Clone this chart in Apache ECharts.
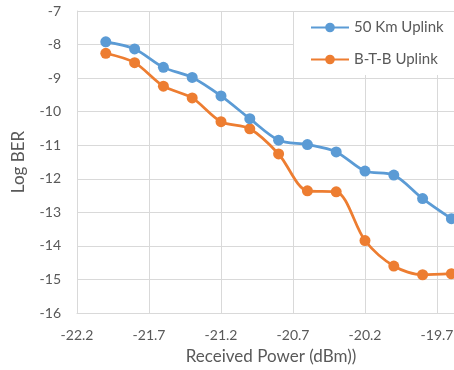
<!DOCTYPE html>
<html>
<head>
<meta charset="utf-8">
<script src="https://cdn.jsdelivr.net/npm/echarts@6/dist/echarts.min.js"></script>
<style>
  html, body { margin: 0; padding: 0; background: #fff; }
  #chart { width: 454px; height: 370px; }
</style>
</head>
<body>
<div id="chart"></div>
<script>
// Received optical power (dBm) and measured log10(BER) per link
const powerDbm = [-22.0, -21.8, -21.6, -21.4, -21.2, -21.0, -20.8, -20.6, -20.4, -20.2, -20.0, -19.8, -19.6];
const ber50km = [-7.92, -8.13, -8.68, -8.98, -9.53, -10.21, -10.85, -10.98, -11.2, -11.77, -11.89, -12.59, -13.19];
const berBtb = [-8.26, -8.54, -9.24, -9.59, -10.3, -10.51, -11.26, -12.36, -12.39, -13.84, -14.6, -14.86, -14.83];
const seriesNames = ['50 Km Uplink', 'B-T-B Uplink'];
const xTitle = 'Received Power (dBm))';
const yTitle = 'Log BER';

const FONT = 'Lato, "Open Sans", sans-serif';
const TEXT = '#595959';
const GRID = '#d9d9d9';

const pairs = (xs, ys) => xs.map((x, i) => [x, ys[i]]);

const chart = echarts.init(document.getElementById('chart'), null, { renderer: 'canvas' });

chart.setOption({
  animation: false,
  textStyle: { fontFamily: FONT },
  grid: {
    left: 77, top: 11, width: 432, height: 302,
    containLabel: false,
    outerBoundsMode: 'none'
  },
  legend: {
    orient: 'vertical',
    left: 294,
    top: 12,
    padding: [8, 60, 8, 16],
    backgroundColor: '#ffffff',
    itemWidth: 38,
    itemHeight: 12,
    itemGap: 17,
    textStyle: { color: TEXT, fontSize: 15, fontFamily: FONT },
    data: seriesNames
  },
  xAxis: {
    type: 'value',
    min: -22.2,
    max: -19.2,
    interval: 0.5,
    name: xTitle,
    nameLocation: 'middle',
    nameGap: 35,
    nameTextStyle: { color: TEXT, fontSize: 17, fontFamily: FONT, padding: [0, 44, 0, 0] },
    axisLine: { show: true, lineStyle: { color: GRID, width: 1 } },
    axisTick: { show: false },
    axisLabel: { color: TEXT, fontSize: 14, margin: 15, formatter: v => v.toFixed(1) },
    splitLine: { show: true, lineStyle: { color: GRID, width: 1 } }
  },
  yAxis: {
    type: 'value',
    min: -16,
    max: -7,
    interval: 1,
    name: yTitle,
    nameLocation: 'middle',
    nameGap: 50,
    nameRotate: 90,
    nameTextStyle: { color: TEXT, fontSize: 17, fontFamily: FONT },
    axisLine: { show: true, lineStyle: { color: GRID, width: 1 } },
    axisTick: { show: false },
    axisLabel: { color: TEXT, fontSize: 14, margin: 16 },
    splitLine: { show: true, lineStyle: { color: GRID, width: 1 } }
  },
  series: [
    {
      name: seriesNames[0],
      type: 'line',
      data: pairs(powerDbm, ber50km),
      smooth: 0.3,
      symbol: 'circle',
      symbolSize: 11,
      z: 3,
      itemStyle: { color: '#5b9bd5' },
      lineStyle: { color: '#5b9bd5', width: 2.75 }
    },
    {
      name: seriesNames[1],
      type: 'line',
      data: pairs(powerDbm, berBtb),
      smooth: 0.3,
      symbol: 'circle',
      symbolSize: 11,
      z: 2,
      itemStyle: { color: '#ed7d31' },
      lineStyle: { color: '#ed7d31', width: 2.75 }
    }
  ]
});
</script>
</body>
</html>
